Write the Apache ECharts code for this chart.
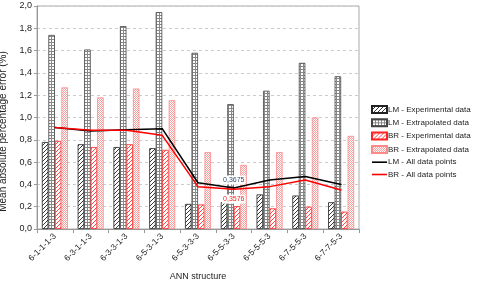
<!DOCTYPE html>
<html><head><meta charset="utf-8">
<script src="https://cdn.jsdelivr.net/npm/echarts@6/dist/echarts.min.js"></script>
<style>html,body{margin:0;padding:0;background:#fff}#c{width:480px;height:281px}</style>
</head><body><div id="c"></div>
<script>
var categories = ['6-1-1-1-3','6-3-1-1-3','6-3-3-1-3','6-5-3-1-3','6-5-3-3-3','6-5-5-3-3','6-5-5-5-3','6-7-5-5-3','6-7-7-5-3'];
var lmExp = [0.78, 0.76, 0.735, 0.725, 0.225, 0.24, 0.31, 0.30, 0.24];
var lmExtra = [1.74, 1.61, 1.82, 1.945, 1.58, 1.12, 1.24, 1.49, 1.37];
var brExp = [0.79, 0.735, 0.76, 0.71, 0.22, 0.205, 0.185, 0.20, 0.155];
var brExtra = [1.27, 1.18, 1.26, 1.155, 0.69, 0.575, 0.69, 1.0, 0.835];
var lmAll = [0.91, 0.88, 0.89, 0.90, 0.415, 0.3675, 0.44, 0.47, 0.40];
var brAll = [0.91, 0.885, 0.885, 0.84, 0.38, 0.3576, 0.38, 0.44, 0.35];
var yTicks = [0, 0.2, 0.4, 0.6, 0.8, 1.0, 1.2, 1.4, 1.6, 1.8, 2.0];

function hatch(color) {
  var c = document.createElement('canvas'); c.width = 4; c.height = 4;
  var g = c.getContext('2d');
  g.fillStyle = '#fff'; g.fillRect(0,0,4,4);
  g.strokeStyle = color; g.lineWidth = 0.9;
  g.beginPath(); g.moveTo(0,4); g.lineTo(4,0); g.moveTo(-1,1); g.lineTo(1,-1); g.moveTo(3,5); g.lineTo(5,3); g.stroke();
  return {image: c, repeat: 'repeat'};
}
function grid() {
  var c = document.createElement('canvas'); c.width = 3; c.height = 3;
  var g = c.getContext('2d');
  g.fillStyle = '#fff'; g.fillRect(0,0,3,3);
  g.fillStyle = '#888'; g.fillRect(0,0,3,1); g.fillRect(0,0,1,3);
  return {image: c, repeat: 'repeat'};
}
function dots() {
  var c = document.createElement('canvas'); c.width = 2; c.height = 2;
  var g = c.getContext('2d');
  g.fillStyle = '#fff'; g.fillRect(0,0,2,2);
  g.fillStyle = '#f7a0a0'; g.fillRect(0,0,1,1); g.fillRect(1,1,1,1);
  return {image: c, repeat: 'repeat'};
}

var chart = echarts.init(document.getElementById('c'), null, {renderer: 'canvas'});
var fmt = function (v) { return v.toFixed(1).replace('.', ','); };
var barCommon = {type: 'bar', barWidth: 6.5, barGap: '0%'};
function lineData(arr, idx, text, pos, color, dist) {
  return arr.map(function (v, i) {
    if (i !== idx) return v;
    return {value: v, label: {show: true, position: pos, distance: dist, formatter: text, fontSize: 7, color: color,
      backgroundColor: '#fff', padding: [1, 1]}};
  });
}
chart.setOption({
  animation: false,
  textStyle: {fontFamily: 'Liberation Sans, Arial, sans-serif'},
  grid: {left: 37, right: 121, top: 6, bottom: 52, show: true, borderColor: '#aaa', borderWidth: 1,
    outerBoundsMode: 'none', containLabel: false},
  legend: {
    orient: 'vertical', left: 366, top: 100, itemWidth: 15, itemHeight: 7, itemGap: 4.3,
    textStyle: {fontSize: 8, color: '#222', padding: [0,0,0,-4]},
    data: [
      {name: 'LM - Experimental data', icon: 'rect'},
      {name: 'LM - Extrapolated data', icon: 'rect'},
      {name: 'BR - Experimental data', icon: 'rect'},
      {name: 'BR - Extrapolated data', icon: 'rect'},
      {name: 'LM - All data points', icon: 'path://M0,0H14V1.5H0Z'},
      {name: 'BR - All data points', icon: 'path://M0,0H14V1.5H0Z'}
    ]
  },
  xAxis: {
    type: 'category', data: categories, boundaryGap: true,
    name: 'ANN structure', nameLocation: 'middle', nameGap: 43,
    nameTextStyle: {fontSize: 9, color: '#222'},
    axisLine: {lineStyle: {color: '#999'}},
    axisTick: {show: true, length: 4, lineStyle: {color: '#999'}},
    axisLabel: {rotate: 45, fontSize: 8.5, color: '#222', margin: 6, interval: 0}
  },
  yAxis: {
    type: 'value', min: 0, max: 2, interval: 0.2,
    name: 'Mean absolute percentage error (%)', nameLocation: 'middle', nameGap: 25,
    nameTextStyle: {fontSize: 10, color: '#222', padding: [0, 28, 0, 0]},
    axisLine: {show: true, lineStyle: {color: '#999'}},
    axisTick: {show: true, length: 3, lineStyle: {color: '#999'}},
    axisLabel: {fontSize: 9, color: '#222', formatter: fmt, margin: 5,
      customValues: yTicks},
    splitLine: {lineStyle: {color: '#ccc', type: [3, 3]}}
  },
  series: [
    Object.assign({name: 'LM - Experimental data', data: lmExp,
      itemStyle: {color: hatch('#222'), borderColor: '#222', borderWidth: 0.8}}, barCommon),
    Object.assign({name: 'LM - Extrapolated data', data: lmExtra,
      itemStyle: {color: grid(), borderColor: '#444', borderWidth: 0.8}}, barCommon),
    Object.assign({name: 'BR - Experimental data', data: brExp,
      itemStyle: {color: hatch('#f33'), borderColor: '#f22', borderWidth: 0.8}}, barCommon),
    Object.assign({name: 'BR - Extrapolated data', data: brExtra,
      itemStyle: {color: dots(), borderColor: '#f88', borderWidth: 0.8}}, barCommon),
    {name: 'LM - All data points', type: 'line', showSymbol: true, symbol: 'circle', symbolSize: 1,
      data: lineData(lmAll, 5, '0,3675', 'top', '#2f4f6f', 3),
      lineStyle: {color: '#000', width: 1.5}, itemStyle: {color: '#000'}, z: 5},
    {name: 'BR - All data points', type: 'line', showSymbol: true, symbol: 'circle', symbolSize: 1,
      data: lineData(brAll, 5, '0,3576', 'bottom', '#e22', 5),
      lineStyle: {color: '#f00', width: 1.5}, itemStyle: {color: '#f00'}, z: 5}
  ]
});
</script></body></html>
